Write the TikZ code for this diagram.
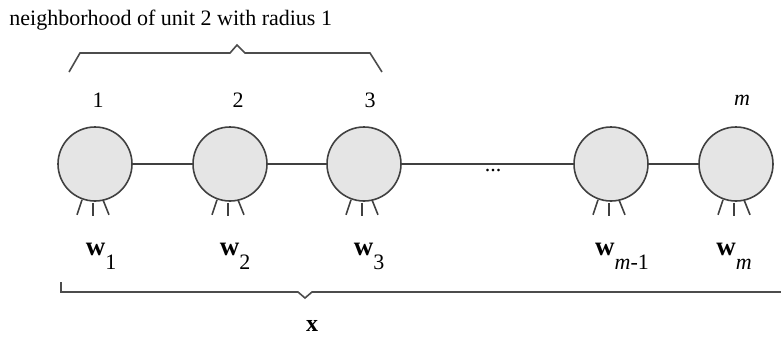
\documentclass[tikz,border=0pt]{standalone}
\usepackage{fontspec}
\setmainfont{Liberation Serif}
\usetikzlibrary{positioning,calc}

\begin{document}
\begin{tikzpicture}[x=0.5pt, y=-0.5pt,
    unit/.style={circle, draw=black!75, line width=0.8pt, minimum size=37pt, inner sep=0pt, fill=black!10},
    link/.style={draw=black!75, line width=0.8pt},
    leg/.style={draw=black!75, line width=0.8pt},
    brace/.style={draw=black!70, line width=0.8pt},
    idx/.style={font=\fontsize{11}{13}\selectfont, inner sep=0pt},
    wlabel/.style={font=\fontsize{11}{13}\selectfont, inner sep=0pt}]

\newcommand{\wvec}[1]{{\fontsize{13.5}{15}\selectfont\bfseries w}\raisebox{-7pt}{#1}}

\useasboundingbox (0,0) rectangle (781,338);

% Title
\node[idx, anchor=west] (title) at (9,20) {neighborhood of unit 2 with radius 1};

% Units
\node[unit] (u1) at (95,164) {};
\node[unit] (u2) at (230,164) {};
\node[unit] (u3) at (364,164) {};
\node[unit] (um1) at (611,164) {};
\node[unit] (um) at (736,164) {};

% Unit indices
\node[idx] (i1) at (98,100) {1};
\node[idx] (i2) at (238,100) {2};
\node[idx] (i3) at (370,100) {3};
\node[idx] (im) at (742,100) {\textit{m}};

% Links between neighbouring units
\draw[link] (u1.east) -- (u2.west);
\draw[link] (u2.east) -- (u3.west);
\draw[link] (u3.east) -- (um1.west);
\draw[link] (um1.east) -- (um.west);
\node[idx] (dots) at (493,171) {...};

% Input legs
\foreach \u in {u1,u2,u3,um1,um} {
    \draw[leg] ($(\u.south)+(-13,-2)$) -- ++(-5,15);
    \draw[leg] ($(\u.south)+(-2,1)$) -- ++(0,13);
    \draw[leg] ($(\u.south)+(8,-2)$) -- ++(6,15);
}

% Weight vectors
\node[wlabel] (w1) at (101,256) {\wvec{1}};
\node[wlabel] (w2) at (235,256) {\wvec{2}};
\node[wlabel] (w3) at (369,256) {\wvec{3}};
\node[wlabel] (wm1) at (622,256) {\wvec{\textit{m}-1}};
\node[wlabel] (wm) at (734,256) {\wvec{\textit{m}}};

% Neighborhood brace
\draw[brace] (69,72) -- (80,53) -- (230,53) -- (237,45) -- (245,53) -- (370,53) -- (382,72);

% Input brace
\draw[brace] (61,282) -- (61,292) -- (298,292) -- (305,298) -- (312,292) -- (781,292);
\node[font=\fontsize{12}{14}\selectfont\bfseries, inner sep=0pt] (x) at (312,326) {x};

\end{tikzpicture}
\end{document}
